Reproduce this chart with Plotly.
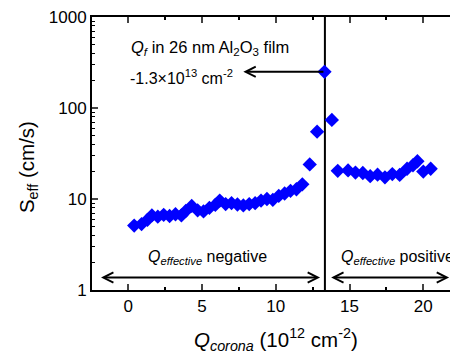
import plotly.graph_objects as go
import math

# Data
q_neg = [0.4, 0.9, 1.3, 1.6, 2.0, 2.4, 2.8, 3.2, 3.6, 3.9, 4.3, 4.7, 5.1, 5.5, 5.9,
         6.2, 6.6, 7.0, 7.4, 7.8, 8.2, 8.6, 9.0, 9.4, 9.8, 10.2, 10.6, 11.0, 11.4,
         11.8, 12.3, 12.8, 13.3]
s_neg = [5.1, 5.3, 5.9, 6.6, 6.4, 6.7, 6.5, 6.8, 6.6, 7.4, 8.4, 7.5, 7.3, 8.0, 8.6,
         9.6, 8.8, 9.0, 8.7, 8.5, 8.8, 9.0, 9.6, 10.0, 9.8, 10.8, 11.5, 12.3, 12.8,
         14.5, 24, 55, 250]
q_pos = [13.8, 14.2, 14.9, 15.4, 15.9, 16.4, 16.9, 17.4, 17.9, 18.4, 18.9, 19.3,
         19.6, 20.0, 20.5]
s_pos = [74, 20.4, 20.6, 19.5, 19.3, 17.8, 18.5, 17.3, 18.8, 18.4, 21.5, 23.5,
         26, 20.0, 21.5]

q_boundary = 13.33
qf_value = 250
x_tickvals = [0, 5, 10, 15, 20]
y_tickvals = [1, 10, 100, 1000]
y_ticktext = ["1", "10", "100", "1000"]

FONT = "Liberation Sans, Arial, sans-serif"

fig = go.Figure()
fig.add_trace(go.Scatter(
    x=q_neg + q_pos, y=s_neg + s_pos, mode="markers",
    marker=dict(symbol="diamond", size=11, color="#0000FF", line=dict(width=0)),
    showlegend=False, cliponaxis=False, hoverinfo="skip"))

minor_y = [m * 10 ** d for d in range(0, 3) for m in range(2, 10)]

fig.update_layout(
    width=450, height=356,
    margin=dict(l=92, r=0, t=17, b=66),
    paper_bgcolor="white", plot_bgcolor="white",
    font=dict(family=FONT, size=17, color="black"),
    xaxis=dict(range=[-2.46, 21.81], tickvals=x_tickvals, ticks="inside", ticklen=6,
               tickwidth=1.5, showline=True, linewidth=2, linecolor="black",
               mirror="allticks", showgrid=False, zeroline=False,
               minor=dict(tickvals=[-2.5, 2.5, 7.5, 12.5, 17.5], ticks="inside",
                          ticklen=3, tickwidth=1.5, tickcolor="black"),
               tickfont=dict(size=17)),
    yaxis=dict(type="log", range=[0, 3], tickvals=y_tickvals, ticktext=y_ticktext,
               ticks="inside", ticklen=6, tickwidth=1.5, showline=True, linewidth=2,
               linecolor="black", mirror=False, showgrid=False, zeroline=False,
               minor=dict(tickvals=minor_y, ticks="inside", ticklen=3, tickwidth=1,
                          tickcolor="black"),
               tickfont=dict(size=17)),
)

fig.add_shape(type="line", xref="x", yref="paper", x0=q_boundary, x1=q_boundary,
              y0=0, y1=1, line=dict(color="black", width=2), layer="below")

ly = math.log10
# top arrow pointing left
fig.add_annotation(x=7.8, y=ly(qf_value), ax=q_boundary, ay=ly(qf_value),
                   xref="x", yref="y", axref="x", ayref="y", text="",
                   showarrow=True, arrowhead=5, arrowwidth=2, arrowsize=1,
                   arrowcolor="black", standoff=0, startstandoff=0)
# bottom-left double arrow
fig.add_annotation(x=13.0, y=ly(1.37), ax=-1.95, ay=ly(1.37),
                   xref="x", yref="y", axref="x", ayref="y", text="",
                   showarrow=True, arrowhead=5, startarrowhead=5, arrowside="end+start",
                   arrowwidth=2, arrowsize=1, startarrowsize=1, arrowcolor="black",
                   standoff=0, startstandoff=0)
# bottom-right double arrow
fig.add_annotation(x=21.75, y=ly(1.37), ax=13.65, ay=ly(1.37),
                   xref="x", yref="y", axref="x", ayref="y", text="",
                   showarrow=True, arrowhead=5, startarrowhead=5, arrowside="end+start",
                   arrowwidth=2, arrowsize=1, startarrowsize=1, arrowcolor="black",
                   standoff=0, startstandoff=0)

fig.add_annotation(x=0.05, y=2.66, xref="x", yref="y", xanchor="left", yanchor="middle",
                   text="<i>Q</i><sub><i>f</i></sub> in 26 nm Al<sub>2</sub>O<sub>3</sub> film",
                   showarrow=False, font=dict(size=16.5))
fig.add_annotation(x=0.0, y=2.34, xref="x", yref="y", xanchor="left", yanchor="middle",
                   text="-1.3×10<sup>13</sup> cm<sup>-2</sup>",
                   showarrow=False, font=dict(size=16))
fig.add_annotation(x=5.4, y=0.36, xref="x", yref="y", xanchor="center", yanchor="middle",
                   text="<i>Q</i><sub><i>effective</i></sub> negative",
                   showarrow=False, font=dict(size=16))
fig.add_annotation(x=14.3, y=0.36, xref="x", yref="y", xanchor="left", yanchor="middle",
                   text="<i>Q</i><sub><i>effective</i></sub> positive",
                   showarrow=False, font=dict(size=16))

# axis titles
fig.add_annotation(x=0.514, y=-0.183, xref="paper", yref="paper",
                   xanchor="center", yanchor="middle",
                   text="<i>Q</i><sub><i>corona</i></sub> (10<sup>12</sup> cm<sup>-2</sup>)",
                   showarrow=False, font=dict(size=20.5))
fig.add_annotation(x=-0.179, y=0.45, xref="paper", yref="paper",
                   xanchor="center", yanchor="middle", textangle=-90,
                   text="S<sub>eff</sub> (cm/s)",
                   showarrow=False, font=dict(size=20.5))

fig.write_html("out.html", config={"displayModeBar": False},
               post_script="document.body.style.margin='0px';")
